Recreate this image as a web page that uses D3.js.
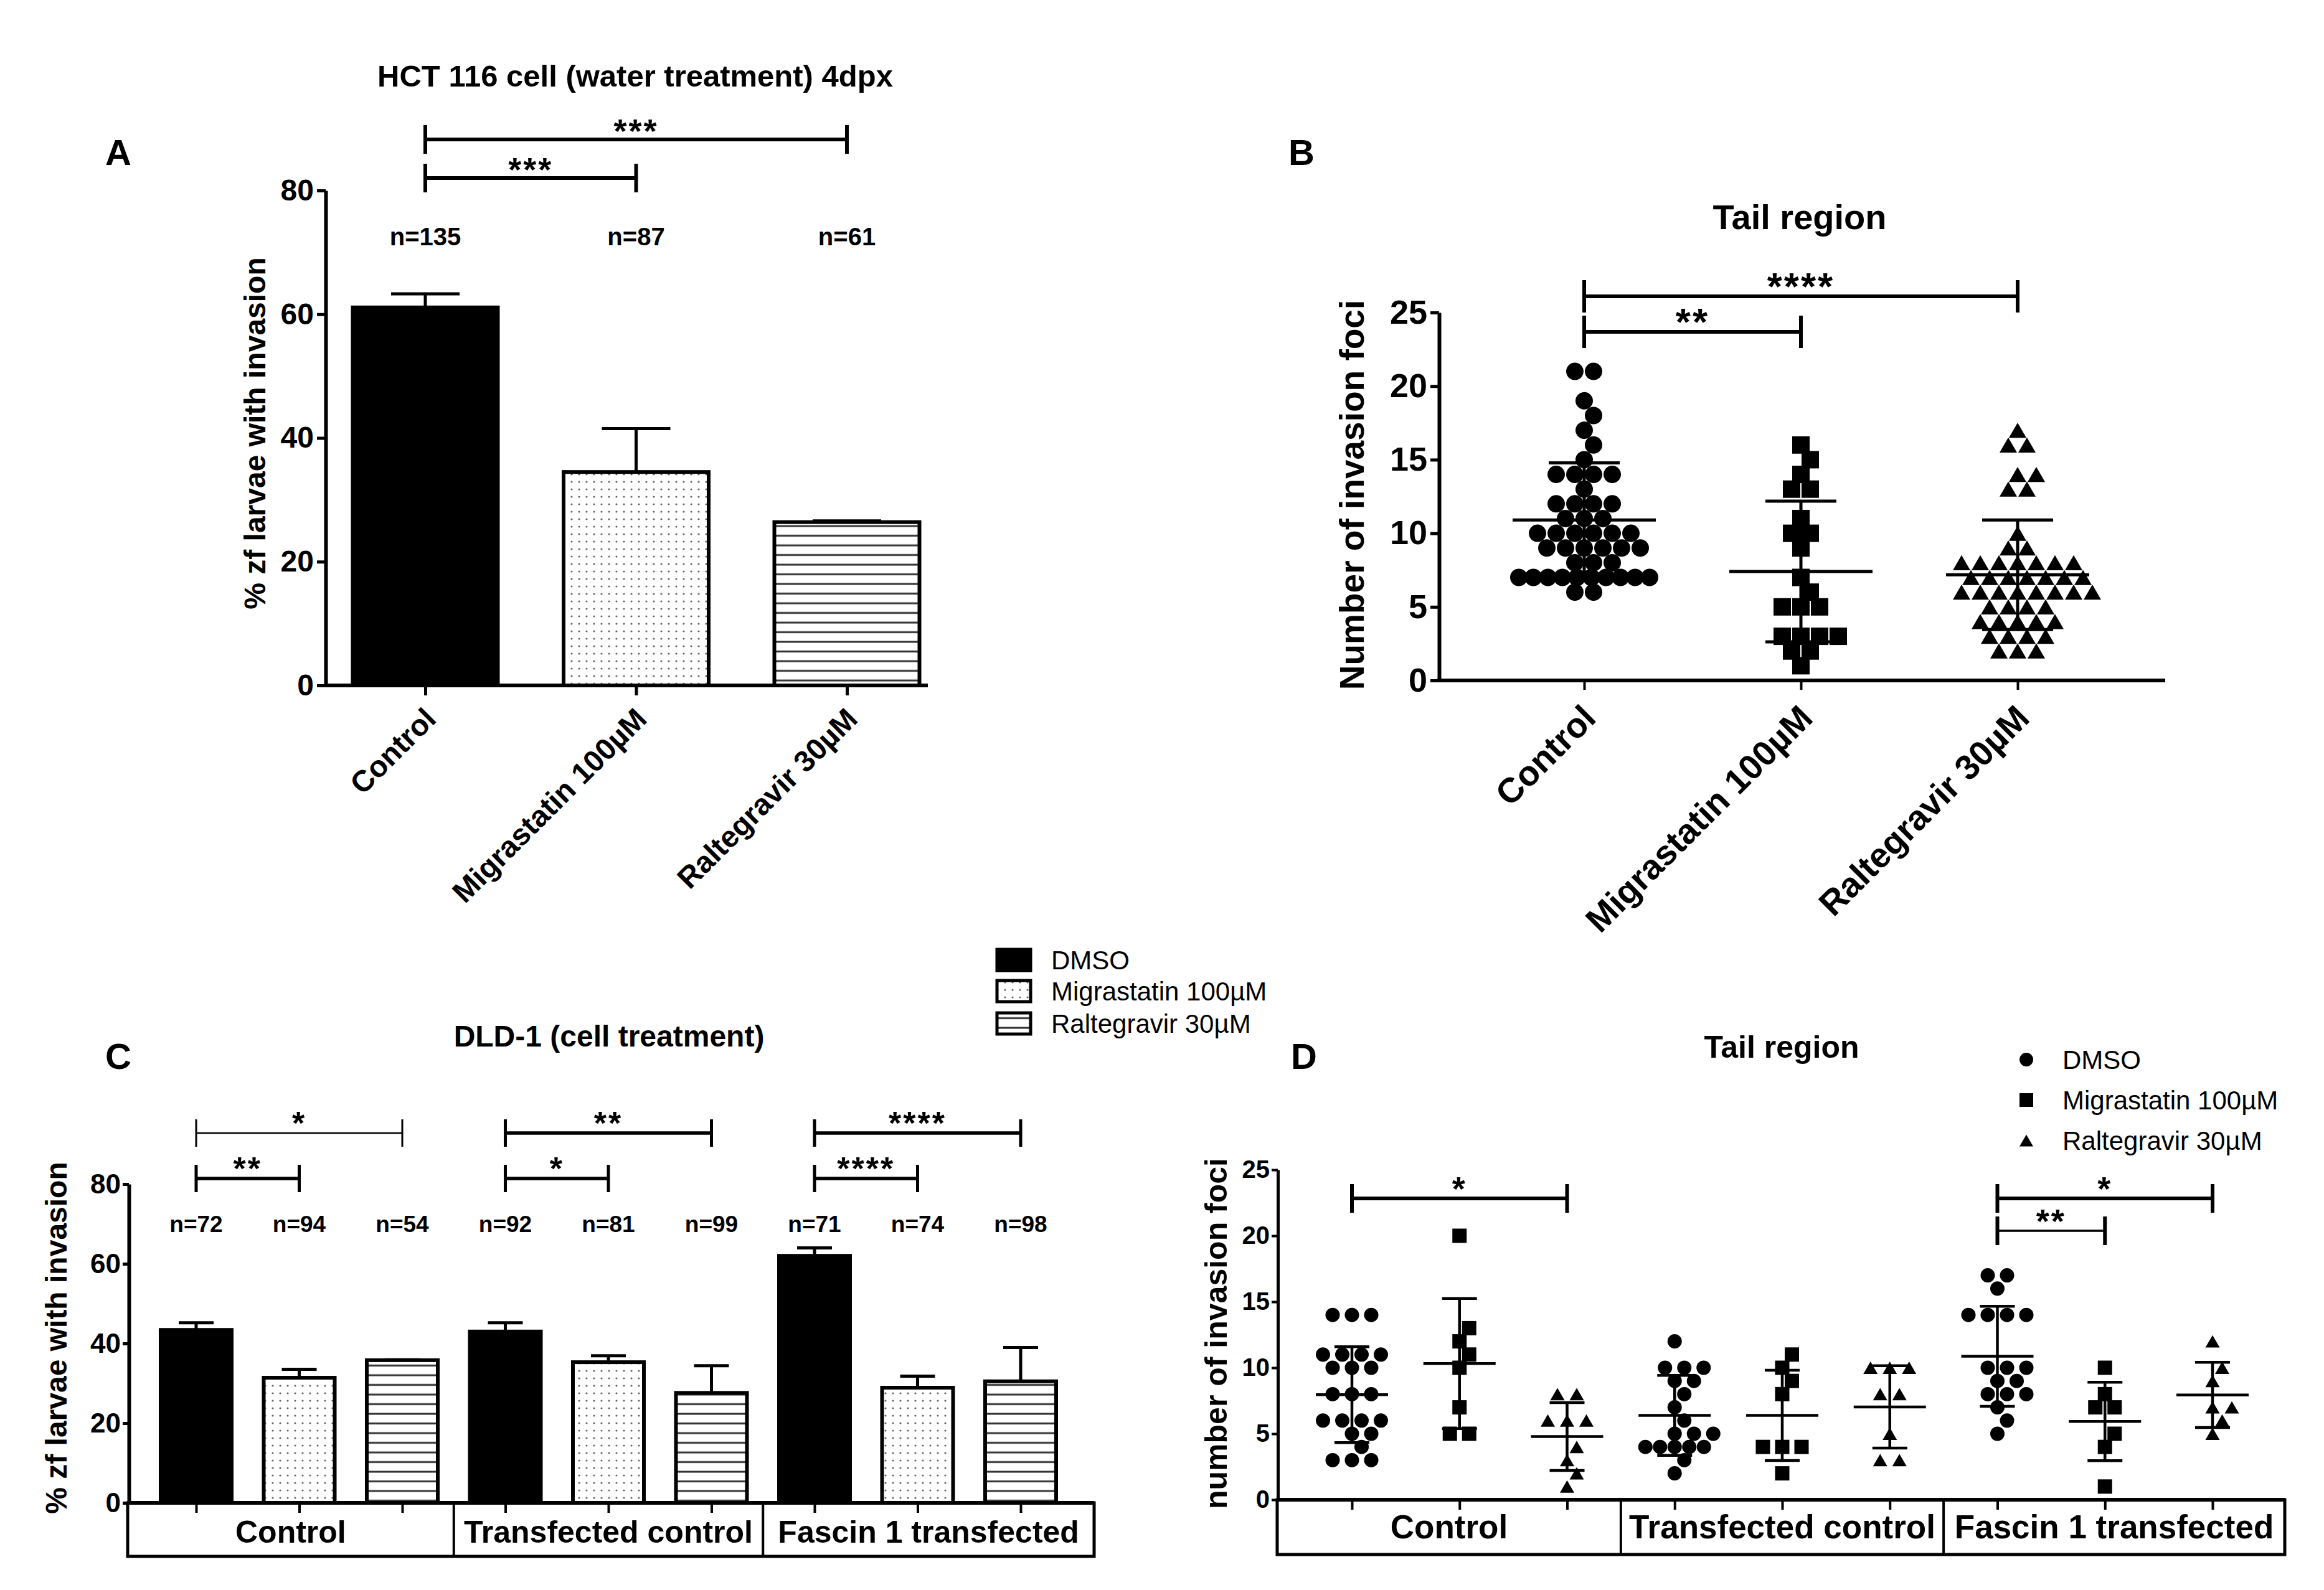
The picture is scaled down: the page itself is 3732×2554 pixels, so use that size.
<!DOCTYPE html>
<html><head><meta charset="utf-8">
<script src="https://cdn.jsdelivr.net/npm/d3@7"></script>
<style>
html,body{margin:0;padding:0;background:#fff;}
svg{display:block;}
text{font-family:"Liberation Sans",Arial,Helvetica,sans-serif;fill:#000;}
</style>
</head><body>
<svg id="fig" width="3732" height="2554"></svg>
<script>
// ---------------- DATA ----------------
// Panel A
const aCategories = ["Control", "Migrastatin 100µM", "Raltegravir 30µM"];
const aMeans = [61.1, 34.5, 26.4];
const aErrs = [2.2, 7.0, 0.2];
const aCounts = ["n=135", "n=87", "n=61"];
const aTicks = [0, 20, 40, 60, 80];
const aSig = [{from:0, to:1, label:"***", level:0}, {from:0, to:2, label:"***", level:1}];

// Panel B
const bCategories = ["Control", "Migrastatin 100µM", "Raltegravir 30µM"];
const bControl = [21,21,19,18,17,16,15,14,14,14,14,13,12,12,12,12,11,11,11,10,10,10,10,10,10,9,9,9,9,9,9,8,8,8,7,7,7,7,7,7,7,7,7,7,6,6];
const bMigra = [16,15,14,13,13,11,10,10,9,7,6,5,5,5,3,3,3,3,2,2,1];
const bRalt = [17,16,16,14,14,13,13,10,9,9,8,8,8,8,8,8,8,7,7,7,7,7,7,7,6,6,6,6,6,6,6,6,5,5,5,5,4,4,4,4,4,3,3,3,3,2,2,2];
const bMeans = [10.9, 7.4, 7.18];
const bSDs = [3.88, 4.78, 3.72];
const bTicks = [0, 5, 10, 15, 20, 25];
const bSig = [{from:0, to:1, label:"**", level:0}, {from:0, to:2, label:"****", level:1}];

// Panel C
const cGroups = ["Control", "Transfected control", "Fascin 1 transfected"];
const cSeries = ["DMSO", "Migrastatin 100µM", "Raltegravir 30µM"];
const cDMSO = [43.4, 43.0, 62.0];
const cMigra = [31.4, 35.3, 28.9];
const cRalt = [35.8, 27.6, 30.5];
const cDMSOErr = [1.8, 2.2, 2.0];
const cMigraErr = [2.1, 1.6, 2.9];
const cRaltErr = [0.1, 6.8, 8.5];
const cCounts = [["n=72","n=94","n=54"],["n=92","n=81","n=99"],["n=71","n=74","n=98"]];
const cTicks = [0, 20, 40, 60, 80];
const cSig = [
  {group:0, from:0, to:1, label:"**", level:0, thin:false},
  {group:0, from:0, to:2, label:"*", level:1, thin:true},
  {group:1, from:0, to:1, label:"*", level:0, thin:false},
  {group:1, from:0, to:2, label:"**", level:1, thin:false},
  {group:2, from:0, to:1, label:"****", level:0, thin:false},
  {group:2, from:0, to:2, label:"****", level:1, thin:false}
];

// Panel D
const dGroups = ["Control", "Transfected control", "Fascin 1 transfected"];
const dSeries = ["DMSO", "Migrastatin 100µM", "Raltegravir 30µM"];
const dControlDMSO = [14,14,14,11,11,11,11,10,10,10,8,8,8,6,6,6,6,5,5,4,3,3,3];
const dControlMigra = [20,13,12,11,10,7,5,5];
const dControlRalt = [8,8,6,6,6,4,3,2,1];
const dTransDMSO = [12,10,10,10,9,9,8,7,6,5,5,5,4,4,4,4,4,3,2];
const dTransMigra = [11,10,9,8,4,4,4,2];
const dTransRalt = [10,10,10,8,8,5,3,3];
const dFascinDMSO = [17,17,16,14,14,14,14,10,10,10,9,9,8,8,8,7,6,5];
const dFascinMigra = [10,8,7,7,5,4,1];
const dFascinRalt = [12,10,9,7,7,6,5];
const dMeans = [[7.96,10.32,4.79],[6.39,6.39,7.03],[10.87,5.93,7.94]];
const dSDs = [[3.63,4.93,2.57],[3.03,3.42,3.12],[3.79,2.97,2.47]];
const dTicks = [0, 5, 10, 15, 20, 25];
const dSig = [
  {group:0, from:0, to:2, label:"*", level:1, thin:false},
  {group:2, from:0, to:1, label:"**", level:0, thin:true},
  {group:2, from:0, to:2, label:"*", level:1, thin:false}
];

// ---------------- DRAWING ----------------
const svg = d3.select("#fig");
svg.append("rect").attr("width", 3732).attr("height", 2554).attr("fill", "#fff");
const defs = svg.append("defs");
const pd = defs.append("pattern").attr("id", "dots").attr("patternUnits", "userSpaceOnUse").attr("width", 12).attr("height", 12);
pd.append("rect").attr("width", 12).attr("height", 12).attr("fill", "#fff");
pd.append("circle").attr("cx", 6).attr("cy", 6).attr("r", 1.6).attr("fill", "#666");
const ph = defs.append("pattern").attr("id", "hlines").attr("patternUnits", "userSpaceOnUse").attr("width", 20).attr("height", 15.5);
ph.append("rect").attr("width", 20).attr("height", 15.5).attr("fill", "#fff");
ph.append("rect").attr("x", 0).attr("y", 6.5).attr("width", 20).attr("height", 3).attr("fill", "#333");
const fills = ["#000", "url(#dots)", "url(#hlines)"];

function txt(g, x, y, s, size, weight, anchor, extra) {
  const t = g.append("text").attr("x", x).attr("y", y).attr("dy", "0.35em")
    .attr("font-size", size).attr("font-weight", weight || "bold")
    .attr("text-anchor", anchor || "middle").text(s);
  if (extra) extra(t);
  return t;
}
function line(g, x1, y1, x2, y2, w) {
  return g.append("line").attr("x1", x1).attr("y1", y1).attr("x2", x2).attr("y2", y2)
    .attr("stroke", "#000").attr("stroke-width", w);
}
function styleYAxis(ax, fontSize, lw) {
  ax.select(".domain").attr("stroke-width", lw);
  ax.selectAll(".tick line").attr("stroke-width", lw - 1);
  ax.selectAll(".tick text").attr("font-size", fontSize).attr("font-weight", "bold")
    .attr("font-family", '"Liberation Sans",Arial,sans-serif').attr("fill", "#000");
}
function bracket(g, x1, x2, y, half, lw, tw, label, fs, off) {
  line(g, x1, y, x2, y, lw);
  line(g, x1, y - half, x1, y + half, tw);
  line(g, x2, y - half, x2, y + half, tw);
  g.append("text").attr("x", (x1 + x2) / 2).attr("y", y - off + 0.57 * fs)
    .attr("font-size", fs).attr("font-weight", "bold").attr("text-anchor", "middle")
    .attr("letter-spacing", 3).text(label);
}
function rowLayout(values, y, s, maxHalf, D) {
  const keys = Array.from(new Set(values)).sort((a, b) => a - b);
  const placed = [];
  keys.forEach(k => {
    const n = values.filter(v => v === k).length;
    const sp = n > 1 ? Math.min(s, 2 * maxHalf / (n - 1)) : s;
    const base = d3.range(n).map(i => (i - (n - 1) / 2) * sp);
    const yy = y(k);
    let best = 0, bestC = Infinity;
    for (const sh of [0, s / 2, -s / 2, s, -s]) {
      let c = 0;
      base.forEach(bx => placed.forEach(p => { if (Math.hypot(p.dx - (bx + sh), p.y - yy) < D) c++; }));
      if (c < bestC) { bestC = c; best = sh; }
      if (c === 0) break;
    }
    base.forEach(bx => placed.push({dx: bx + best, y: yy, v: k}));
  });
  return placed;
}
const symTypes = [d3.symbolCircle, d3.symbolSquare, d3.symbolTriangle];
function symSize(type, a) {
  if (type === 0) return Math.PI * a * a / 4;
  if (type === 1) return a * a;
  return Math.sqrt(3) / 4 * a * a;
}
function scatter(g, values, cx, y, type, a, s, maxHalf, D) {
  const pts = rowLayout(values, y, s, maxHalf, D);
  const gen = d3.symbol().type(symTypes[type]).size(symSize(type, a));
  const shift = type === 2 ? (Math.sqrt(3) / 2 * a) / 6 : 0;
  g.selectAll(null).data(pts).enter().append("path")
    .attr("d", gen).attr("fill", "#000")
    .attr("transform", d => `translate(${cx + d.dx},${d.y + shift})`);
}
function meanSD(g, cx, y, mean, sd, half, cap, lw) {
  line(g, cx - half, y(mean), cx + half, y(mean), lw);
  line(g, cx, y(mean - sd), cx, y(mean + sd), lw);
  line(g, cx - cap, y(mean + sd), cx + cap, y(mean + sd), lw);
  line(g, cx - cap, y(mean - sd), cx + cap, y(mean - sd), lw);
}

// Panel letters
[["A", 190, 245], ["B", 2090, 245], ["C", 190, 1697], ["D", 2094, 1697]].forEach(d =>
  txt(svg, d[1], d[2], d[0], 58, "bold"));

// ===== Panel A =====
{
  const g = svg.append("g");
  const x = d3.scalePoint().domain(aCategories).range([683, 1360]);
  const y = d3.scaleLinear().domain([0, 80]).range([1101, 306]);
  const axX = 523, bw = 233;
  txt(g, 1020, 122, "HCT 116 cell (water treatment) 4dpx", 49, "bold");
  const ya = g.append("g").attr("transform", `translate(${axX},0)`)
    .call(d3.axisLeft(y).tickValues(aTicks).tickSize(14).tickPadding(5).tickSizeOuter(0));
  styleYAxis(ya, 48, 6);
  txt(g, 409, 696, "% zf larvae with invasion", 48, "bold", "middle", t => t.attr("transform", "rotate(-90,409,696)"));
  aCategories.forEach((c, i) => {
    const cx = x(c);
    line(g, cx, y(aMeans[i]), cx, y(aMeans[i] + aErrs[i]), 5);
    line(g, cx - 55, y(aMeans[i] + aErrs[i]), cx + 55, y(aMeans[i] + aErrs[i]), 5);
    g.append("rect").attr("x", cx - bw / 2).attr("y", y(aMeans[i])).attr("width", bw)
      .attr("height", y(0) - y(aMeans[i])).attr("fill", fills[i]).attr("stroke", "#000").attr("stroke-width", 6);
    txt(g, cx, 380, aCounts[i], 40, "bold");
  });
  const xa = g.append("g").attr("transform", `translate(0,${y(0)})`)
    .call(d3.axisBottom(x).tickSize(16).tickSizeOuter(0).tickFormat(""));
  xa.select(".domain").remove();
  xa.selectAll(".tick line").attr("stroke-width", 5);
  line(g, axX - 3, y(0), 1490, y(0), 6);
  aCategories.forEach(c => {
    const px = x(c) + 8, py = y(0) + 45;
    g.append("text").attr("transform", `translate(${px},${py}) rotate(-45)`).attr("dy", "0.35em")
      .attr("text-anchor", "end").attr("font-size", 48).attr("font-weight", "bold").text(c);
  });
  aSig.forEach(s => bracket(g, x(aCategories[s.from]), x(aCategories[s.to]), 286 - s.level * 62, 23, 6, 6, s.label, 54, 26));
}

// ===== Panel B =====
{
  const g = svg.append("g");
  const x = d3.scalePoint().domain(bCategories).range([2544, 3240]);
  const y = d3.scaleLinear().domain([0, 25]).range([1093, 502]);
  const axX = 2311;
  txt(g, 2890, 348, "Tail region", 56, "bold");
  const ya = g.append("g").attr("transform", `translate(${axX},0)`)
    .call(d3.axisLeft(y).tickValues(bTicks).tickSize(14).tickPadding(5).tickSizeOuter(0));
  styleYAxis(ya, 54, 6);
  txt(g, 2171, 795, "Number of invasion foci", 55, "bold", "middle", t => t.attr("transform", "rotate(-90,2171,795)"));
  const xa = g.append("g").attr("transform", `translate(0,${y(0)})`)
    .call(d3.axisBottom(x).tickSize(15).tickSizeOuter(0).tickFormat(""));
  xa.select(".domain").remove();
  xa.selectAll(".tick line").attr("stroke-width", 4);
  line(g, axX - 3, y(0), 3477, y(0), 6);
  [bControl, bMigra, bRalt].forEach((vals, i) => {
    scatter(g, vals, x(bCategories[i]), y, i, 28, 30, 105, 27);
    meanSD(g, x(bCategories[i]), y, bMeans[i], bSDs[i], 115, 57, 5);
  });
  bCategories.forEach(c => {
    const px = x(c) + 8, py = y(0) + 50;
    g.append("text").attr("transform", `translate(${px},${py}) rotate(-45)`).attr("dy", "0.35em")
      .attr("text-anchor", "end").attr("font-size", 56).attr("font-weight", "bold").text(c);
  });
  bSig.forEach(s => bracket(g, x(bCategories[s.from]), x(bCategories[s.to]), 533 - s.level * 57, 26, 6, 6, s.label, 62, 30));
}

// ===== Panel C =====
{
  const g = svg.append("g");
  const keys = [];
  cGroups.forEach((gr, gi) => cSeries.forEach((se, si) => keys.push(gi + "-" + si)));
  const x = d3.scalePoint().domain(keys).range([315, 1639]);
  const y = d3.scaleLinear().domain([0, 80]).range([2414, 1902]);
  const axX = 207, bw = 114, boxL = 205, boxR = 1757, boxB = 2500;
  const vals = [cDMSO, cMigra, cRalt], errs = [cDMSOErr, cMigraErr, cRaltErr];
  txt(g, 978, 1664, "DLD-1 (cell treatment)", 48, "bold");
  const ya = g.append("g").attr("transform", `translate(${axX},0)`)
    .call(d3.axisLeft(y).tickValues(cTicks).tickSize(10).tickPadding(3).tickSizeOuter(0));
  styleYAxis(ya, 44, 6);
  txt(g, 90, 2149, "% zf larvae with invasion", 48, "bold", "middle", t => t.attr("transform", "rotate(-90,90,2149)"));
  keys.forEach(k => {
    const [gi, si] = k.split("-").map(Number);
    const v = vals[si][gi], e = errs[si][gi], cx = x(k);
    line(g, cx, y(v), cx, y(v + e), 5);
    line(g, cx - 28, y(v + e), cx + 28, y(v + e), 5);
    g.append("rect").attr("x", cx - bw / 2).attr("y", y(v)).attr("width", bw).attr("height", y(0) - y(v))
      .attr("fill", fills[si]).attr("stroke", "#000").attr("stroke-width", 6);
    txt(g, cx, 1966, cCounts[gi][si], 37, "bold");
  });
  const xa = g.append("g").attr("transform", `translate(0,${y(0)})`)
    .call(d3.axisBottom(x).tickSize(16).tickSizeOuter(0).tickFormat(""));
  xa.select(".domain").remove();
  xa.selectAll(".tick line").attr("stroke-width", 4);
  g.append("rect").attr("x", boxL).attr("y", y(0)).attr("width", boxR - boxL).attr("height", boxB - y(0))
    .attr("fill", "none").attr("stroke", "#000").attr("stroke-width", 5);
  line(g, boxL, y(0), boxR, y(0), 6);
  const edges = [boxL];
  for (let gi = 1; gi < cGroups.length; gi++) {
    const xd = (x((gi - 1) + "-2") + x(gi + "-0")) / 2;
    edges.push(xd);
    line(g, xd, y(0), xd, boxB, 4);
  }
  edges.push(boxR);
  cGroups.forEach((gr, gi) => txt(g, (edges[gi] + edges[gi + 1]) / 2, 2460, gr, 50, "bold"));
  cSig.forEach(s => bracket(g, x(s.group + "-" + s.from), x(s.group + "-" + s.to), 1893 - s.level * 73, 22,
    s.thin ? 2.5 : 5.5, s.thin ? 3 : 5, s.label, 52, 28));
  const lg = svg.append("g");
  cSeries.forEach((se, si) => {
    const cy = [1542, 1592, 1644][si];
    lg.append("rect").attr("x", 1601).attr("y", cy - 17).attr("width", 54).attr("height", 34)
      .attr("fill", fills[si]).attr("stroke", "#000").attr("stroke-width", 5);
    txt(lg, 1688, cy, se, 42, "normal", "start");
  });
}

// ===== Panel D =====
{
  const g = svg.append("g");
  const keys = [];
  dGroups.forEach((gr, gi) => dSeries.forEach((se, si) => keys.push(gi + "-" + si)));
  const x = d3.scalePoint().domain(keys).range([2171, 3553]);
  const y = d3.scaleLinear().domain([0, 25]).range([2409, 1879]);
  const axX = 2052, boxL = 2051, boxR = 3669, boxB = 2497;
  const data = [[dControlDMSO, dControlMigra, dControlRalt], [dTransDMSO, dTransMigra, dTransRalt], [dFascinDMSO, dFascinMigra, dFascinRalt]];
  txt(g, 2861, 1681, "Tail region", 50, "bold");
  const ya = g.append("g").attr("transform", `translate(${axX},0)`)
    .call(d3.axisLeft(y).tickValues(dTicks).tickSize(10).tickPadding(3).tickSizeOuter(0));
  styleYAxis(ya, 40, 5);
  txt(g, 1952, 2142, "number of invasion foci", 50, "bold", "middle", t => t.attr("transform", "rotate(-90,1952,2142)"));
  keys.forEach(k => {
    const [gi, si] = k.split("-").map(Number);
    scatter(g, data[gi][si], x(k), y, si, 23, 31, 47, 24);
    meanSD(g, x(k), y, dMeans[gi][si], dSDs[gi][si], 58, 28, 4.5);
  });
  const xa = g.append("g").attr("transform", `translate(0,${y(0)})`)
    .call(d3.axisBottom(x).tickSize(16).tickSizeOuter(0).tickFormat(""));
  xa.select(".domain").remove();
  xa.selectAll(".tick line").attr("stroke-width", 4);
  g.append("rect").attr("x", boxL).attr("y", y(0)).attr("width", boxR - boxL).attr("height", boxB - y(0))
    .attr("fill", "none").attr("stroke", "#000").attr("stroke-width", 5);
  line(g, boxL, y(0), boxR, y(0), 6);
  const edges = [boxL];
  for (let gi = 1; gi < dGroups.length; gi++) {
    const xd = (x((gi - 1) + "-2") + x(gi + "-0")) / 2;
    edges.push(xd);
    line(g, xd, y(0), xd, boxB, 4);
  }
  edges.push(boxR);
  dGroups.forEach((gr, gi) => txt(g, (edges[gi] + edges[gi + 1]) / 2, 2452, gr, 53, "bold"));
  dSig.forEach(s => bracket(g, x(s.group + "-" + s.from), x(s.group + "-" + s.to), 1977 - s.level * 52, 23,
    s.thin ? 3.5 : 6, 6, s.label, 54, 28));
  dSeries.forEach((se, si) => {
    const cy = [1702, 1767, 1832][si];
    const a = 22;
    const shift = si === 2 ? (Math.sqrt(3) / 2 * a) / 6 : 0;
    g.append("path").attr("d", d3.symbol().type(symTypes[si]).size(symSize(si, a)))
      .attr("transform", `translate(3254,${cy + shift})`).attr("fill", "#000");
    txt(g, 3312, cy, se, 42, "normal", "start");
  });
}
</script>
</body></html>
